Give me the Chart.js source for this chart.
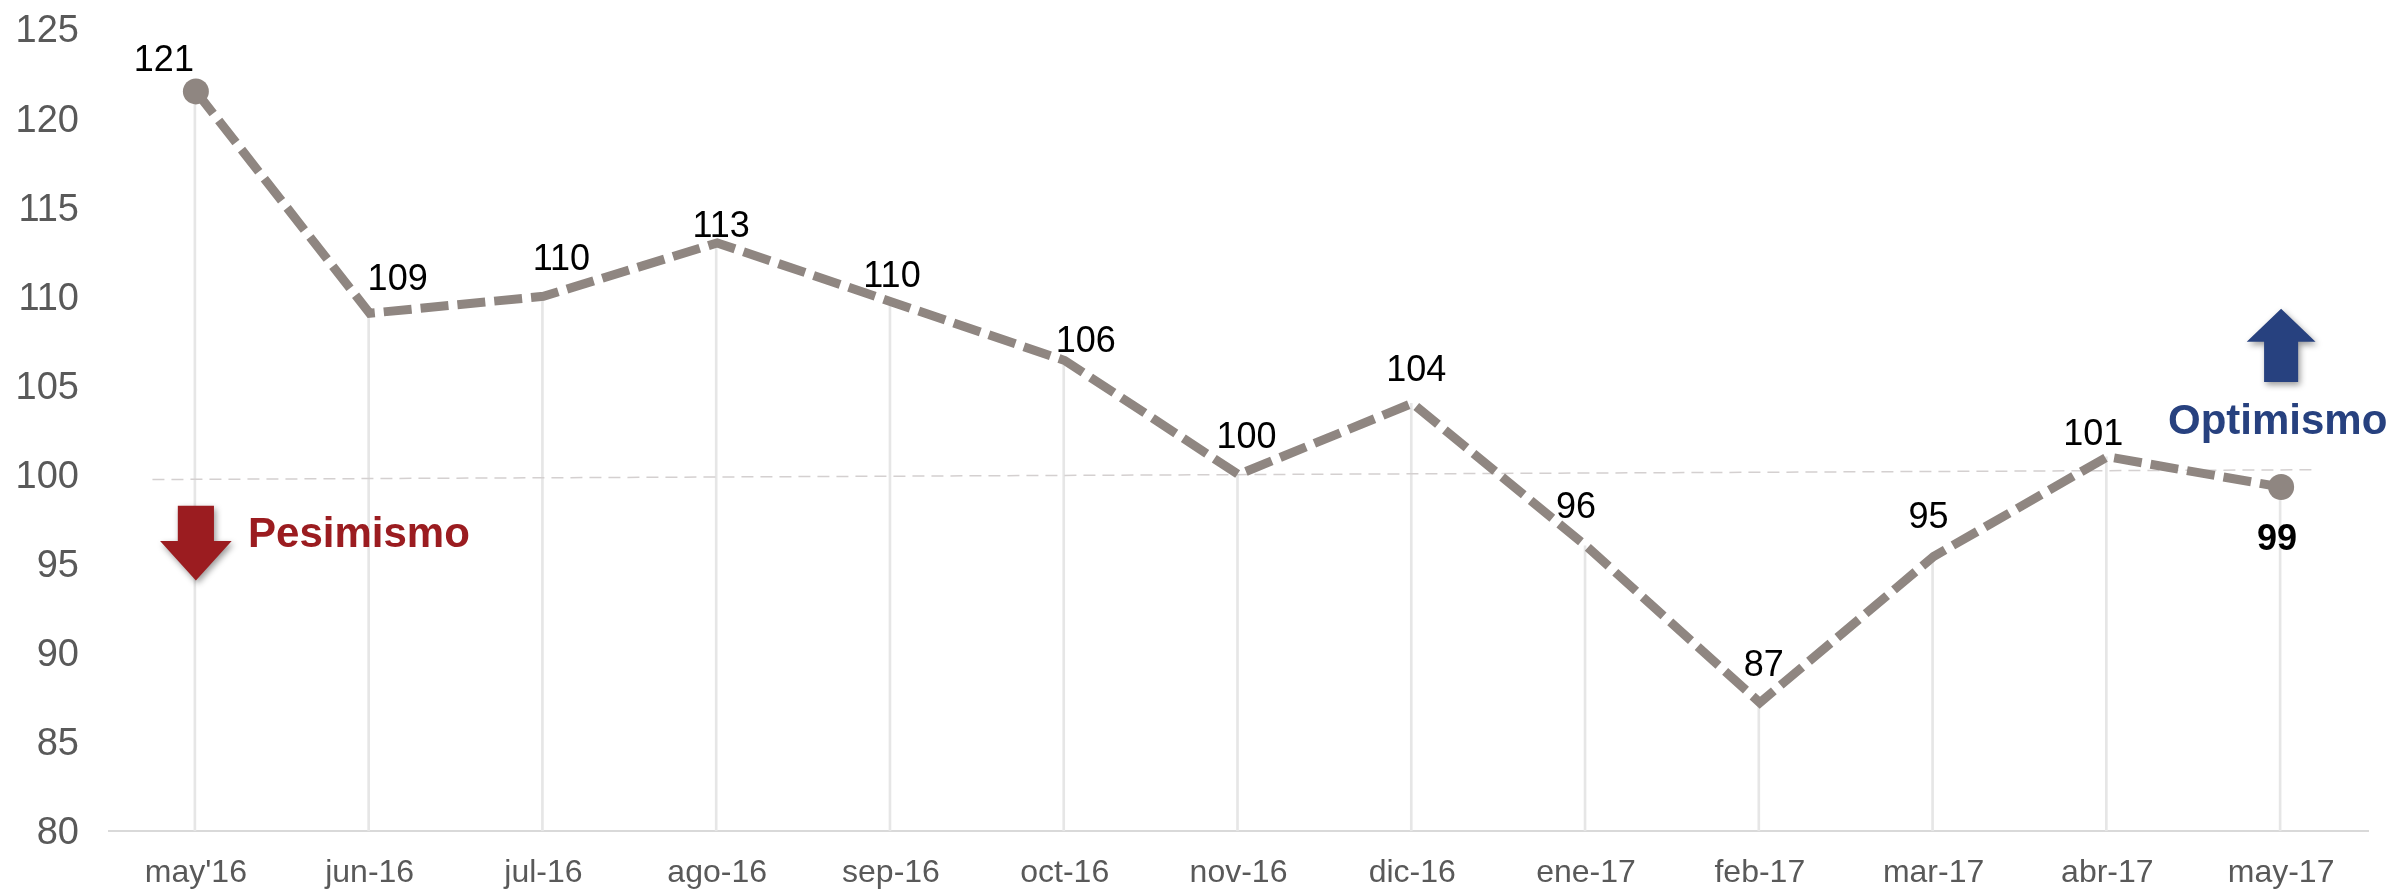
<!DOCTYPE html>
<html lang="es">
<head>
  <meta charset="UTF-8">
  <title>Optimismo / Pesimismo</title>
  <script src="https://cdn.jsdelivr.net/npm/chart.js"></script>
  <style>
    html, body { margin: 0; padding: 0; background: #fff; }
    canvas { display: block; }
  </style>
</head>
<body>
  <canvas id="chart" width="2394" height="889"></canvas>
  <script>
    const months = ["may'16", 'jun-16', 'jul-16', 'ago-16', 'sep-16', 'oct-16', 'nov-16', 'dic-16', 'ene-17', 'feb-17', 'mar-17', 'abr-17', 'may-17'];
    const values = [121.5, 109.05, 110, 113, 109.7, 106.4, 100, 104, 96, 87.2, 95.4, 101, 99.3];
    const valueLabels = ['121', '109', '110', '113', '110', '106', '100', '104', '96', '87', '95', '101', '99'];
    const neutralLine = [{ x: -0.25, y: 99.72 }, { x: 12.18, y: 100.27 }];

    const FONT = '"Liberation Sans", Arial, sans-serif';

    // label offset from the point, in px
    const labelOffsets = [[-32, -30], [28, -33], [18, -36], [4, -16], [1, -25], [21, -18], [8, -36], [4, -32], [-10, -38], [4, -37], [-5, -38], [-14, -22], [-4, 53]];

    function arrow(ctx, x, y, headFrac, headW, shaftW, color) {
      // y = [tail value, tip value], x = centre index; drawn through the scales
      const sx = ctx.chart.scales.xRef, sy = ctx.chart.scales.y;
      const yTail = sy.getPixelForValue(y[0]), yTip = sy.getPixelForValue(y[1]);
      const yHead = yTip + (yTail - yTip) * headFrac;
      const xm = sx.getPixelForValue(x), hw = sx.getPixelForValue(x + headW) - xm, sw = sx.getPixelForValue(x + shaftW) - xm;
      ctx.save();
      ctx.shadowColor = 'rgba(0,0,0,0.4)';
      ctx.shadowBlur = 6;
      ctx.shadowOffsetX = 2;
      ctx.shadowOffsetY = 3;
      ctx.fillStyle = color;
      ctx.beginPath();
      ctx.moveTo(xm, yTip);
      ctx.lineTo(xm + hw, yHead);
      ctx.lineTo(xm + sw, yHead);
      ctx.lineTo(xm + sw, yTail);
      ctx.lineTo(xm - sw, yTail);
      ctx.lineTo(xm - sw, yHead);
      ctx.lineTo(xm - hw, yHead);
      ctx.closePath();
      ctx.fill();
      ctx.restore();
    }

    const overlays = {
      id: 'overlays',
      afterDatasetsDraw(chart) {
        const ctx = chart.ctx;
        ctx.chart = chart;
        const meta = chart.getDatasetMeta(1);
        ctx.save();
        ctx.textAlign = 'center';
        ctx.textBaseline = 'middle';
        ctx.fillStyle = '#000';
        meta.data.forEach((pt, i) => {
          ctx.font = (i === 12 ? 'bold ' : '') + '36px ' + FONT;
          ctx.fillText(valueLabels[i], pt.x + labelOffsets[i][0], pt.y + labelOffsets[i][1]);
        });
        const sx = chart.scales.xRef, sy = chart.scales.y;
        arrow(ctx, 0, [98.25, 94.05], 0.53, 0.206, 0.104, '#9b1c20');
        arrow(ctx, 12, [105.2, 109.3], 0.45, 0.198, 0.098, '#27417f');
        ctx.font = 'bold 42px ' + FONT;
        ctx.fillStyle = '#9b1c20';
        ctx.textAlign = 'left';
        ctx.fillText('Pesimismo', sx.getPixelForValue(0.3), sy.getPixelForValue(96.6));
        ctx.fillStyle = '#27417f';
        ctx.textAlign = 'center';
        ctx.fillText('Optimismo', sx.getPixelForValue(11.98), sy.getPixelForValue(102.95));
        ctx.restore();
      }
    };

    new Chart(document.getElementById('chart'), {
      data: {
        labels: months,
        datasets: [
          {
            type: 'bar',
            data: values,
            backgroundColor: '#e6e6e6',
            barThickness: 2,
            order: 3
          },
          {
            type: 'line',
            data: values,
            borderColor: '#8f8681',
            backgroundColor: '#8f8681',
            borderWidth: 9,
            borderDash: [28, 9],
            tension: 0,
            pointRadius: values.map((v, i) => (i === 0 || i === values.length - 1) ? 13 : 0),
            pointBorderWidth: 0,
            order: 1
          },
          {
            type: 'line',
            xAxisID: 'xRef',
            data: neutralLine,
            borderColor: '#d4d0d0',
            borderWidth: 1.5,
            borderDash: [12, 7],
            pointRadius: 0,
            order: 2
          }
        ]
      },
      options: {
        responsive: false,
        animation: false,
        layout: { padding: { top: 29, right: 26, left: 0, bottom: 0 } },
        plugins: { legend: { display: false }, tooltip: { enabled: false } },
        scales: {
          x: {
            offset: true,
            grid: { display: false },
            border: { color: '#d9d9d9', width: 2 },
            ticks: { color: '#595959', font: { family: FONT, size: 32 }, padding: 15, maxRotation: 0, autoSkip: false },
            afterFit(s) { s.height = 58; }
          },
          xRef: { type: 'linear', display: false, min: -0.5, max: 12.5 },
          y: {
            min: 80,
            max: 125,
            grid: { display: false },
            border: { display: false },
            ticks: { stepSize: 5, color: '#595959', font: { family: FONT, size: 38 }, padding: 22, labelOffset: 3 },
            afterFit(s) { s.width = 109; s.paddingTop = 0; }
          }
        }
      },
      plugins: [overlays]
    });
  </script>
</body>
</html>
